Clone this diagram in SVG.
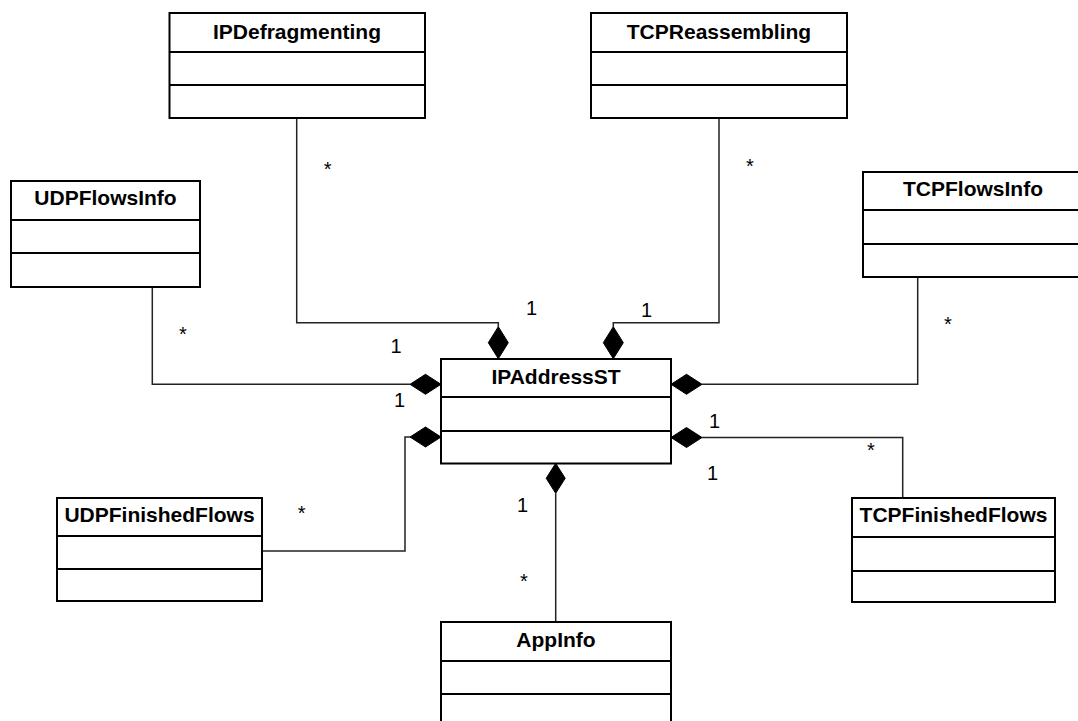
<svg xmlns="http://www.w3.org/2000/svg" width="1078" height="721" viewBox="0 0 1078 721">
<style>
.box{fill:#fff;stroke:#000;stroke-width:2}
.div{stroke:#000;stroke-width:2}
.title{font-family:"Liberation Sans",Arial,sans-serif;font-weight:bold;font-size:21px;text-anchor:middle;fill:#000}
.lbl{font-family:"Liberation Sans",Arial,sans-serif;font-size:20px;text-anchor:middle;fill:#000}
.conn{fill:none;stroke:#222;stroke-width:1.5}
.dia{fill:#000;stroke:#000;stroke-width:1}
</style>
<rect width="1078" height="721" fill="#fff"/>
<g id="connectors">
<path class="conn" d="M296.7,118 V322.7 H498.3 V326.7"/>
<path class="conn" d="M719,118 V322.7 H613.3 V326.7"/>
<path class="conn" d="M152.3,287 V384.3 H410"/>
<path class="conn" d="M917.7,277 V384.3 H702"/>
<path class="conn" d="M262,551 H405 V437 H410"/>
<path class="conn" d="M902.7,498 V437.5 H702"/>
<path class="conn" d="M555.7,622 V493.3"/>
<path class="dia" d="M498.3,326.7 L508.3,342.7 L498.3,358.7 L488.3,342.7 Z"/>
<path class="dia" d="M613.3,326.7 L623.3,342.7 L613.3,358.7 L603.3,342.7 Z"/>
<path class="dia" d="M410,384.3 L425.5,374.3 L441,384.3 L425.5,394.3 Z"/>
<path class="dia" d="M410,437 L425.5,427 L441,437 L425.5,447 Z"/>
<path class="dia" d="M671,384.3 L686.5,374.3 L702,384.3 L686.5,394.3 Z"/>
<path class="dia" d="M671,437.5 L686.5,427.5 L702,437.5 L686.5,447.5 Z"/>
<path class="dia" d="M555.7,463.3 L565.2,478.3 L555.7,493.3 L546.2,478.3 Z"/>
<text class="lbl" x="531.5" y="315">1</text>
<text class="lbl" x="646.5" y="317">1</text>
<text class="lbl" x="396" y="353">1</text>
<text class="lbl" x="399.5" y="407">1</text>
<text class="lbl" x="714.5" y="428">1</text>
<text class="lbl" x="712.5" y="480">1</text>
<text class="lbl" x="522.5" y="512">1</text>
<text class="lbl" x="327.7" y="176">*</text>
<text class="lbl" x="750" y="172.5">*</text>
<text class="lbl" x="183" y="341">*</text>
<text class="lbl" x="948" y="331">*</text>
<text class="lbl" x="871" y="456.6">*</text>
<text class="lbl" x="301.7" y="520">*</text>
<text class="lbl" x="524" y="587.6">*</text>
</g>
<g id="IPDefragmenting">
<rect class="box" x="169.5" y="13" width="255.5" height="105"/>
<line class="div" x1="169.5" y1="52" x2="425" y2="52"/>
<line class="div" x1="169.5" y1="85" x2="425" y2="85"/>
<text class="title" x="297" y="39.3">IPDefragmenting</text>
</g>
<g id="TCPReassembling">
<rect class="box" x="591" y="13" width="256" height="105"/>
<line class="div" x1="591" y1="52" x2="847" y2="52"/>
<line class="div" x1="591" y1="85" x2="847" y2="85"/>
<text class="title" x="719" y="39.3">TCPReassembling</text>
</g>
<g id="UDPFlowsInfo">
<rect class="box" x="11" y="181" width="189" height="106"/>
<line class="div" x1="11" y1="220" x2="200" y2="220"/>
<line class="div" x1="11" y1="253" x2="200" y2="253"/>
<text class="title" x="105.5" y="205">UDPFlowsInfo</text>
</g>
<g id="TCPFlowsInfo">
<rect class="box" x="863" y="172" width="220" height="105"/>
<line class="div" x1="863" y1="210" x2="1083" y2="210"/>
<line class="div" x1="863" y1="244" x2="1083" y2="244"/>
<text class="title" x="973" y="195.7">TCPFlowsInfo</text>
</g>
<g id="IPAddressST">
<rect class="box" x="441" y="359" width="230" height="104.5"/>
<line class="div" x1="441" y1="397" x2="671" y2="397"/>
<line class="div" x1="441" y1="431" x2="671" y2="431"/>
<text class="title" x="556" y="384.3">IPAddressST</text>
</g>
<g id="UDPFinishedFlows">
<rect class="box" x="57" y="498" width="205" height="103"/>
<line class="div" x1="57" y1="536" x2="262" y2="536"/>
<line class="div" x1="57" y1="569" x2="262" y2="569"/>
<text class="title" x="159.5" y="522.3">UDPFinishedFlows</text>
</g>
<g id="TCPFinishedFlows">
<rect class="box" x="852" y="498" width="203" height="104"/>
<line class="div" x1="852" y1="537" x2="1055" y2="537"/>
<line class="div" x1="852" y1="571" x2="1055" y2="571"/>
<text class="title" x="953.5" y="522.3">TCPFinishedFlows</text>
</g>
<g id="AppInfo">
<rect class="box" x="441" y="622" width="230" height="120"/>
<line class="div" x1="441" y1="661" x2="671" y2="661"/>
<line class="div" x1="441" y1="694" x2="671" y2="694"/>
<text class="title" x="556" y="646.7">AppInfo</text>
</g>
</svg>
